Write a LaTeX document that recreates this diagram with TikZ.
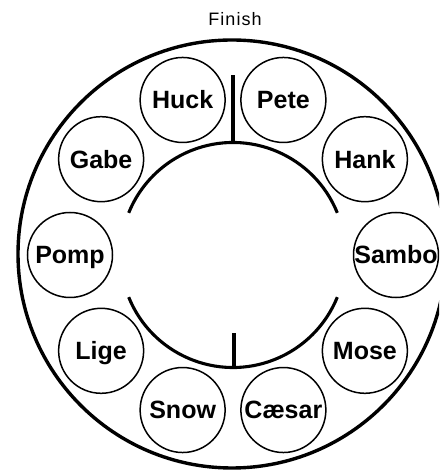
\documentclass[tikz,border=0pt]{standalone}
\usepackage{fontspec}
\setmainfont{Liberation Sans}
\newfontfamily\finfont[LetterSpace=6]{Liberation Sans}
\begin{document}
\begin{tikzpicture}[x=1pt,y=1pt,
  namecirc/.style={circle,draw,line width=1.5pt,minimum size=85pt,inner sep=0pt,
    font=\fontsize{25}{25}\selectfont\bfseries,text height=17.9pt,text depth=0pt},
  ringline/.style={line width=3.4pt},
  arcline/.style={line width=3.1pt},
  tickline/.style={line width=3.1pt}]
\useasboundingbox (0,0) rectangle (439,470);
\clip (0,0) rectangle (439,470);
\coordinate (c) at (233,215);
\coordinate (oc) at (232,216);
% outer ring
\draw[ringline] (oc) circle (214);
% inner arcs
\draw[arcline] ([shift={(22:112.5)}]c) arc[start angle=22,end angle=158,radius=112.5];
\draw[arcline] ([shift={(202:112.5)}]c) arc[start angle=202,end angle=338,radius=112.5];
% ticks
\coordinate (toparc) at ([shift={(90:112.5)}]c);
\coordinate (topfree) at (233,395);
\draw[tickline] (toparc) -- (topfree);
\coordinate (botarc) at (234,103.5);
\coordinate (botfree) at (234,137);
\draw[tickline] (botarc) -- (botfree);
% title
\node[font=\fontsize{18}{18}\finfont,anchor=base,inner sep=0pt] (finish) at (235,444) {Finish};
% name circles
\node[namecirc] (sambo) at ([shift={(0:163)}]c) {Sambo};
\node[namecirc] (hank)  at ([shift={(36:163)}]c) {Hank};
\node[namecirc] (pete)  at ([shift={(72:163)}]c) {Pete};
\node[namecirc] (huck)  at ([shift={(108:163)}]c) {Huck};
\node[namecirc] (gabe)  at ([shift={(144:163)}]c) {Gabe};
\node[namecirc] (pomp)  at ([shift={(180:163)}]c) {Pomp};
\node[namecirc] (lige)  at ([shift={(216:163)}]c) {Lige};
\node[namecirc] (snow)  at ([shift={(252:163)}]c) {Snow};
\node[namecirc] (caesar) at ([shift={(288:163)}]c) {Cæsar};
\node[namecirc] (mose)  at ([shift={(324:163)}]c) {Mose};
\end{tikzpicture}
\end{document}
